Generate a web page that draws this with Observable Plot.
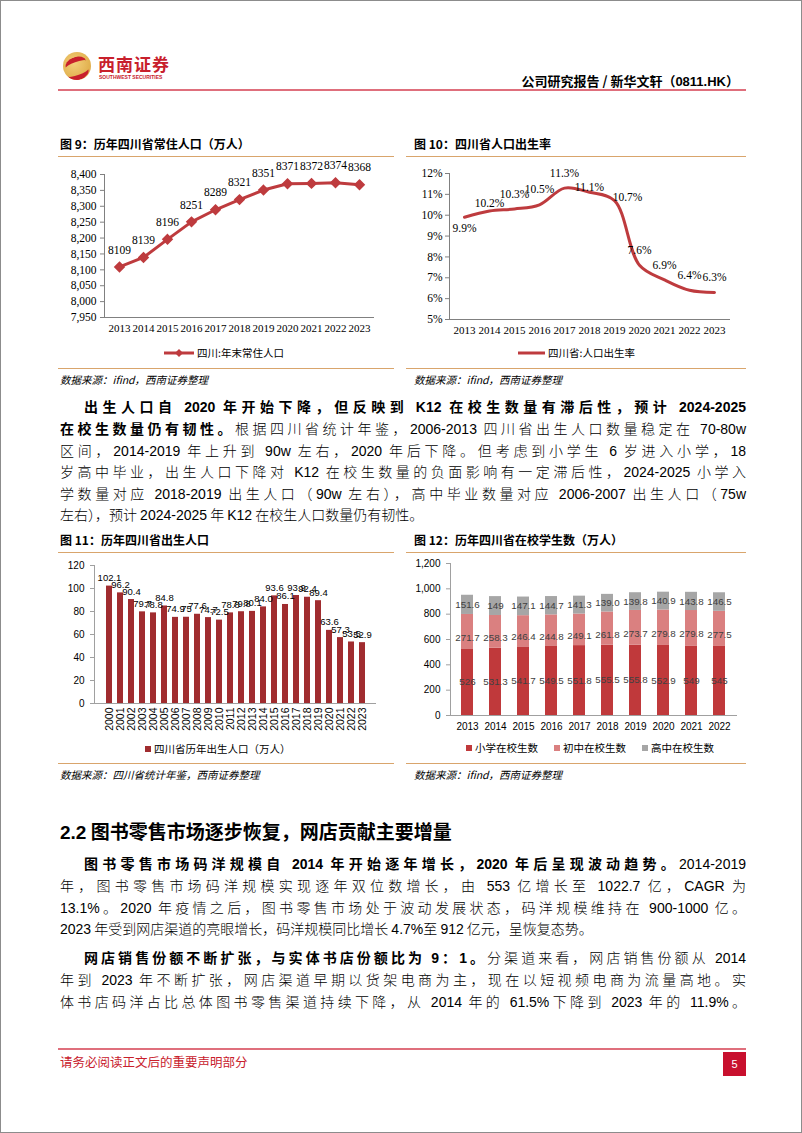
<!DOCTYPE html>
<html><head><meta charset="utf-8">
<script src="https://cdn.jsdelivr.net/npm/d3@7"></script>
<script src="https://cdn.jsdelivr.net/npm/@observablehq/plot@0.6"></script>
<style>
html,body{margin:0;padding:0;background:#fff;}
#page{position:relative;width:800px;height:1131px;border:1px solid #8c8c8c;overflow:hidden;font-family:"Noto Sans CJK SC","Liberation Sans",sans-serif;color:#000;}
.abs{position:absolute;}
.title{position:absolute;font-size:12px;font-weight:700;line-height:16px;white-space:nowrap;}
.rule{position:absolute;height:0;border-top:1px solid #d9a56c;}
.src{position:absolute;font-size:10.5px;font-style:italic;line-height:14px;white-space:nowrap;}
.line{position:absolute;left:59px;width:686px;font-size:14px;font-weight:300;line-height:20px;height:20px;text-align:justify;text-align-last:justify;white-space:nowrap;}
.line.last{text-align-last:left;}
.line b{font-weight:700;}
.num{font-family:"Liberation Sans Narrow","Liberation Sans",sans-serif;font-weight:400;}
.line b .num{font-weight:700;}
.leg{position:absolute;display:flex;align-items:center;font-size:10.5px;line-height:14px;white-space:nowrap;}
.sw{display:inline-block;width:6px;height:6px;margin-right:3px;}
.chart{position:absolute;}
</style></head>
<body><div id="page">

<!-- header -->
<div class="abs" style="left:62px;top:51px;width:28px;height:28px;border-radius:50%;background:radial-gradient(circle at 40% 40%,#f3cf7a,#d9a23a);overflow:hidden;">
  <div class="abs" style="left:2px;top:5px;width:22px;height:10px;border-top:5px solid #c8202c;border-radius:50% 50% 0 0;transform:rotate(-20deg);"></div>
  <div class="abs" style="left:4px;top:13px;width:22px;height:10px;border-bottom:5px solid #c8202c;border-radius:0 0 50% 50%;transform:rotate(-20deg);"></div>
</div>
<div class="abs" style="left:97px;top:53px;font-size:17px;font-weight:700;color:#c8202c;letter-spacing:1px;line-height:20px;font-family:'Noto Sans CJK SC';">西南证券</div>
<div class="abs" style="left:98px;top:73px;font-size:5px;font-weight:700;color:#c8202c;line-height:6px;font-family:'Liberation Sans';">SOUTHWEST SECURITIES</div>
<div class="abs" style="right:62px;top:71px;font-size:13px;font-weight:700;line-height:17px;white-space:nowrap;">公司研究报告 / 新华文轩（<span style="font-family:'Liberation Sans'">0811.HK</span>）</div>
<div class="abs" style="left:57px;top:88px;width:688px;height:2px;background:#df6f7c;"></div>

<!-- fig 9 -->
<div class="title" style="left:59px;top:135px;">图 9：历年四川省常住人口（万人）</div>
<div class="rule" style="left:57px;top:155px;width:336px;"></div>
<div id="c9" class="chart" style="left:57px;top:160px;"></div>
<div class="leg" style="left:163px;top:345px;">
  <svg width="30" height="10" style="margin-right:3px"><line x1="0" y1="5" x2="30" y2="5" stroke="#be3b3e" stroke-width="3"/><path d="M15 1 L19 5 L15 9 L11 5 Z" fill="#be3b3e"/></svg>四川:年末常住人口</div>
<div class="rule" style="left:57px;top:367px;width:336px;"></div>
<div class="src" style="left:59px;top:372px;">数据来源：ifind，西南证券整理</div>

<!-- fig 10 -->
<div class="title" style="left:413px;top:135px;">图 10：四川省人口出生率</div>
<div class="rule" style="left:405px;top:155px;width:340px;"></div>
<div id="c10" class="chart" style="left:405px;top:160px;"></div>
<div class="leg" style="left:517px;top:345px;">
  <svg width="27" height="10" style="margin-right:3px"><line x1="0" y1="5" x2="27" y2="5" stroke="#be3b3e" stroke-width="3"/></svg>四川省:人口出生率</div>
<div class="rule" style="left:405px;top:367px;width:340px;"></div>
<div class="src" style="left:413px;top:372px;">数据来源：ifind，西南证券整理</div>

<!-- paragraph 1 -->
<div class="line" style="top:395px;padding-left:24px;width:662px;"><b>出生人口自 <span class="num">2020</span> 年开始下降，但反映到 <span class="num">K12</span> 在校生数量有滞后性，预计 <span class="num">2024-2025</span></b></div>
<div class="line" style="top:417px;"><b>在校生数量仍有韧性。</b>根据四川省统计年鉴，<span class="num">2006-2013</span> 四川省出生人口数量稳定在 <span class="num">70-80w</span></div>
<div class="line" style="top:439px;">区间，<span class="num">2014-2019</span> 年上升到 <span class="num">90w</span> 左右，<span class="num">2020</span> 年后下降。但考虑到小学生 <span class="num">6</span> 岁进入小学，<span class="num">18</span></div>
<div class="line" style="top:460px;">岁高中毕业，出生人口下降对 <span class="num">K12</span> 在校生数量的负面影响有一定滞后性，<span class="num">2024-2025</span> 小学入</div>
<div class="line" style="top:482px;">学数量对应 <span class="num">2018-2019</span> 出生人口（<span class="num">90w</span> 左右），高中毕业数量对应 <span class="num">2006-2007</span> 出生人口（<span class="num">75w</span></div>
<div class="line last" style="top:503px;">左右），预计 <span class="num">2024-2025</span> 年 <span class="num">K12</span> 在校生人口数量仍有韧性。</div>

<!-- fig 11 -->
<div class="title" style="left:59px;top:531px;">图 11：历年四川省出生人口</div>
<div class="rule" style="left:57px;top:551px;width:336px;"></div>
<div id="c11" class="chart" style="left:57px;top:555px;"></div>
<div class="leg" style="left:144px;top:741px;"><span class="sw" style="background:#a02c2f"></span>四川省历年出生人口（万人）</div>
<div class="rule" style="left:57px;top:762px;width:336px;"></div>
<div class="src" style="left:59px;top:767px;">数据来源：四川省统计年鉴，西南证券整理</div>

<!-- fig 12 -->
<div class="title" style="left:413px;top:531px;">图 12：历年四川省在校学生数（万人）</div>
<div class="rule" style="left:405px;top:551px;width:340px;"></div>
<div id="c12" class="chart" style="left:405px;top:555px;"></div>
<div id="leg12" class="leg" style="left:465px;top:740px;"></div>
<div class="rule" style="left:405px;top:762px;width:340px;"></div>
<div class="src" style="left:413px;top:767px;">数据来源：ifind，西南证券整理</div>

<!-- section 2.2 -->
<div class="abs" style="left:59px;top:817px;font-size:19px;font-weight:700;line-height:26px;white-space:nowrap;"><span style="font-family:'Liberation Sans'">2.2</span> 图书零售市场逐步恢复，网店贡献主要增量</div>

<div class="line" style="top:852px;padding-left:24px;width:662px;"><b>图书零售市场码洋规模自 <span class="num">2014</span> 年开始逐年增长，<span class="num">2020</span> 年后呈现波动趋势。</b><span class="num">2014-2019</span></div>
<div class="line" style="top:874px;">年，图书零售市场码洋规模实现逐年双位数增长，由 <span class="num">553</span> 亿增长至 <span class="num">1022.7</span> 亿，<span class="num">CAGR</span> 为</div>
<div class="line" style="top:896px;"><span class="num">13.1%</span>。<span class="num">2020</span> 年疫情之后，图书零售市场处于波动发展状态，码洋规模维持在 <span class="num">900-1000</span> 亿。</div>
<div class="line last" style="top:917px;"><span class="num">2023</span> 年受到网店渠道的亮眼增长，码洋规模同比增长 <span class="num">4.7%</span>至 <span class="num">912</span> 亿元，呈恢复态势。</div>

<div class="line" style="top:946px;padding-left:24px;width:662px;"><b>网店销售份额不断扩张，与实体书店份额比为 <span class="num">9</span>：<span class="num">1</span>。</b>分渠道来看，网店销售份额从 <span class="num">2014</span></div>
<div class="line" style="top:968px;">年到 <span class="num">2023</span> 年不断扩张，网店渠道早期以货架电商为主，现在以短视频电商为流量高地。实</div>
<div class="line" style="top:990px;">体书店码洋占比总体图书零售渠道持续下降，从 <span class="num">2014</span> 年的 <span class="num">61.5%</span>下降到 <span class="num">2023</span> 年的 <span class="num">11.9%</span>。</div>

<!-- footer -->
<div class="abs" style="left:57px;top:1047px;width:688px;height:2px;background:#df6f7c;"></div>
<div class="abs" style="left:59px;top:1053px;font-size:12.5px;color:#c8202c;line-height:16px;white-space:nowrap;">请务必阅读正文后的重要声明部分</div>
<div class="abs" style="left:722px;top:1051px;width:23px;height:24px;background:#c8102e;color:#fff;font-size:11px;line-height:24px;text-align:center;font-family:'Liberation Sans';">5</div>

</div>
<script>
// ---------- data ----------
const popYears = ["2013","2014","2015","2016","2017","2018","2019","2020","2021","2022","2023"];
const popValues = [8109, 8139, 8196, 8251, 8289, 8321, 8351, 8371, 8372, 8374, 8368];
const popTicks = [7950, 8000, 8050, 8100, 8150, 8200, 8250, 8300, 8350, 8400];

const rateYears = ["2013","2014","2015","2016","2017","2018","2019","2020","2021","2022","2023"];
const rateValues = [9.9, 10.2, 10.3, 10.5, 11.3, 11.1, 10.7, 7.6, 6.9, 6.4, 6.3];
const rateTicks = [5, 6, 7, 8, 9, 10, 11, 12];

const birthYears = ["2000","2001","2002","2003","2004","2005","2006","2007","2008","2009","2010","2011",
                    "2012","2013","2014","2015","2016","2017","2018","2019","2020","2021","2022","2023"];
const birthValues = ["102.1","96.2","90.4","79.7","78.8","84.8","74.9","75","77.6","74.7","72.5","78.8",
                     "79.8","80.1","84.0","93.6","86.1","93.9","92.4","89.4","63.6","57.3","53.5","52.9"];
const birthTicks = [0, 20, 40, 60, 80, 100, 120];

const studentYears = ["2013","2014","2015","2016","2017","2018","2019","2020","2021","2022"];
const primaryValues = ["526","531.3","541.7","549.5","551.8","555.5","555.8","552.9","549","545"];
const juniorValues  = ["271.7","258.3","246.4","244.8","249.1","261.8","273.7","279.8","279.8","277.5"];
const seniorValues  = ["151.6","149","147.1","144.7","141.3","139.0","139.8","140.9","143.8","146.5"];
const studentSeries = ["小学在校生数","初中在校生数","高中在校生数"];
const studentTicks = [0, 200, 400, 600, 800, 1000, 1200];

// ---------- styles ----------
const RED = "#be3b3e";
const serif = "'Liberation Serif','Times New Roman',serif";
const sans = "'Liberation Sans',Arial,sans-serif";
const studentColors = ["#c0393b", "#da8080", "#a6a6a6"];

// ---------- Fig 9 ----------
const pop = popYears.map((y, i) => ({year: y, value: popValues[i]}));
document.getElementById("c9").append(Plot.plot({
  width: 336, height: 180, marginTop: 13, marginBottom: 24, marginLeft: 46, marginRight: 21,
  style: {fontFamily: serif, fontSize: "11.5px", color: "#000", background: "transparent", overflow: "visible"},
  x: {type: "point", domain: popYears, padding: 0.5, axis: null},
  y: {domain: [7950, 8400], axis: null},
  marks: [
    Plot.frame({anchor: "left", stroke: "#808080"}),
    Plot.frame({anchor: "bottom", stroke: "#808080"}),
    Plot.axisY({ticks: popTicks, tickFormat: d3.format(","), tickSize: 4, tickPadding: 4, stroke: "#808080", fill: "#000", label: null}),
    Plot.axisX({tickSize: 0, tickPadding: 7, fill: "#000", label: null, fontSize: 11}),
    Plot.line(pop, {x: "year", y: "value", stroke: RED, strokeWidth: 3}),
    Plot.dot(pop, {x: "year", y: "value", symbol: "diamond2", r: 4.2, fill: RED, stroke: RED}),
    Plot.text(pop, {x: "year", y: "value", text: d => String(d.value), dy: -17, fontSize: 11.5, fill: "#000"})
  ]
}));

// ---------- Fig 10 ----------
const rate = rateYears.map((y, i) => ({year: y, value: rateValues[i]}));
const pct = d => d + "%";
const labelAt = (years, opts) => Plot.text(rate, {x: "year", y: "value", text: d => pct(d.value), filter: d => years.includes(d.year), fontSize: 11.5, fill: "#000", ...opts});
document.getElementById("c10").append(Plot.plot({
  width: 340, height: 180, marginTop: 12, marginBottom: 22, marginLeft: 43, marginRight: 17,
  style: {fontFamily: serif, fontSize: "11.5px", color: "#000", background: "transparent", overflow: "visible"},
  x: {type: "point", domain: rateYears, padding: 0.5, axis: null},
  y: {domain: [5, 12], axis: null},
  marks: [
    Plot.frame({anchor: "left", stroke: "#808080"}),
    Plot.frame({anchor: "bottom", stroke: "#808080"}),
    Plot.axisY({ticks: rateTicks, tickFormat: pct, tickSize: 4, tickPadding: 3, stroke: "#808080", fill: "#000", label: null}),
    Plot.axisX({tickSize: 0, tickPadding: 7, fill: "#000", label: null, fontSize: 11}),
    Plot.line(rate, {x: "year", y: "value", stroke: RED, strokeWidth: 3, curve: "catmull-rom"}),
    labelAt(["2015","2016","2017","2020","2021","2022","2023"], {dy: -15}),
    labelAt(["2013"], {dy: 11}),
    labelAt(["2014"], {dy: -8}),
    labelAt(["2018"], {dy: -5}),
    labelAt(["2019"], {dx: 13, dy: -3})
  ]
}));

// ---------- Fig 11 ----------
const births = birthYears.map((y, i) => ({year: y, value: +birthValues[i], label: birthValues[i]}));
document.getElementById("c11").append(Plot.plot({
  width: 336, height: 185, marginTop: 9, marginBottom: 38, marginLeft: 36, marginRight: 18,
  style: {fontFamily: sans, fontSize: "10px", color: "#000", background: "transparent", overflow: "visible"},
  x: {type: "band", domain: birthYears, paddingInner: 0.5, paddingOuter: 0.25, axis: null},
  y: {domain: [0, 120], axis: null},
  marks: [
    Plot.frame({anchor: "left", stroke: "#a0a0a0"}),
    Plot.axisY({ticks: birthTicks, tickSize: 4, tickPadding: 6, stroke: "#a0a0a0", fill: "#000", label: null, fontSize: 10}),
    Plot.axisX({tickSize: 0, tickPadding: 4, tickRotate: -90, fill: "#000", label: null, fontSize: 10.5}),
    Plot.barY(births, {x: "year", y: "value", fill: "#a02c2f"}),
    Plot.ruleY([0], {stroke: "#a0a0a0"}),
    Plot.text(births, {x: "year", y: "value", text: "label", lineAnchor: "bottom", dy: -5, fontSize: 9.5, fill: "#000"})
  ]
}));

// ---------- Fig 12 ----------
const valueSets = [primaryValues, juniorValues, seniorValues];
const students = [];
studentSeries.forEach((s, k) => studentYears.forEach((y, i) =>
  students.push({year: y, series: s, value: +valueSets[k][i], label: valueSets[k][i]})));
document.getElementById("c12").append(Plot.plot({
  width: 340, height: 185, marginTop: 7, marginBottom: 26, marginLeft: 44, marginRight: 9,
  style: {fontFamily: sans, fontSize: "10px", color: "#000", background: "transparent", overflow: "visible"},
  x: {type: "band", domain: studentYears, paddingInner: 0.57, paddingOuter: 0.285, axis: null},
  y: {domain: [0, 1200], axis: null},
  color: {domain: studentSeries, range: studentColors},
  marks: [
    Plot.frame({anchor: "left", stroke: "#a0a0a0"}),
    Plot.axisY({ticks: studentTicks, tickFormat: d3.format(","), tickSize: 4, tickPadding: 6, stroke: "#a0a0a0", fill: "#000", label: null, fontSize: 10}),
    Plot.axisX({tickSize: 0, tickPadding: 7, fill: "#000", label: null, fontSize: 10}),
    Plot.barY(students, {x: "year", y: "value", fill: "series"}),
    Plot.ruleY([0], {stroke: "#a0a0a0"}),
    Plot.text(students, Plot.stackY({x: "year", y: "value", z: "series",
      text: d => d.series === studentSeries[1] ? "" : d.label, fontSize: 9.8, fill: "#404040"})),
    Plot.text(students, Plot.stackY({x: "year", y: "value", z: "series",
      text: d => d.series === studentSeries[1] ? d.label : "", dy: 6, fontSize: 9.8, fill: "#404040"}))
  ]
}));
const leg12 = document.getElementById("leg12");
studentSeries.forEach((s, k) => {
  const item = document.createElement("span");
  item.style.cssText = "display:inline-flex;align-items:center;margin-right:" + (k < 2 ? "16px" : "0");
  item.innerHTML = `<span class="sw" style="background:${studentColors[k]}"></span>${s}`;
  leg12.append(item);
});
</script>
</body></html>
